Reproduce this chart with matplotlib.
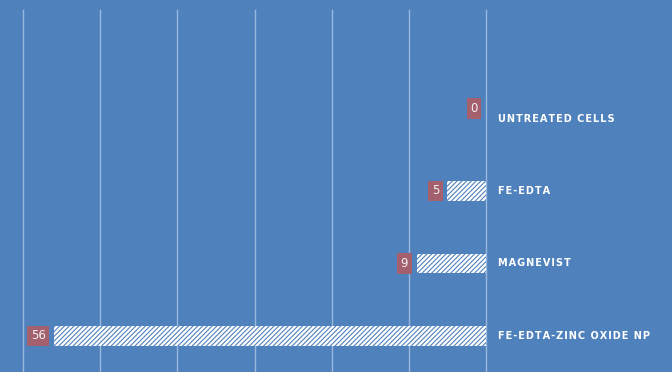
import numpy as np
import matplotlib
matplotlib.use("Agg")
import matplotlib.pyplot as plt

categories = ["FE-EDTA-ZINC OXIDE NP", "MAGNEVIST", "FE-EDTA", "UNTREATED CELLS"]
values = [56, 9, 5, 0]
ticks = [0, 10, 20, 30, 40, 50, 60]

bg = "#4f81bd"
label_bg = "#a5606e"
grid_col = "#9bb8dc"

plt.rcParams["hatch.linewidth"] = 0.8

fig = plt.figure(figsize=(6.72, 3.72), dpi=100, facecolor=bg)
ax = fig.add_axes([23 / 672, 0, (486 - 23) / 672, 362 / 372])
ax.set_facecolor(bg)

y = np.arange(len(categories))
ax.barh(y, values, height=0.27, color="white", edgecolor=bg,
        linewidth=0, hatch="///////", zorder=3)

ax.set_xlim(60, 0)
ax.set_ylim(-0.5, 4.5)
ax.set_xticks(ticks)
ax.xaxis.grid(True, color=grid_col, linewidth=1)
for gl in ax.get_xgridlines():
    gl.set_clip_on(False)
ax.set_axisbelow(True)
ax.tick_params(left=False, bottom=False, labelleft=False, labelbottom=False)
for s in ax.spines.values():
    s.set_visible(False)

def spaced(t):
    return "\u200a".join(t)

for yi, v, name in zip(y, values, categories):
    dy = 7.2 if v == 0 else 0
    ax.annotate(str(v), xy=(v, yi), xytext=(-6, dy), textcoords="offset points",
                ha="right", va="center", color="#f2f2f2", fontsize=8.5,
                bbox=dict(boxstyle="square,pad=0.32", fc=label_bg, ec="none"),
                zorder=4)
    ax.annotate(spaced(name), xy=(0, yi), xytext=(9, 0), textcoords="offset points",
                ha="left", va="center", color="white", fontsize=7,
                fontweight="bold", annotation_clip=False)

fig.savefig("out.png", dpi=100, facecolor=bg)
